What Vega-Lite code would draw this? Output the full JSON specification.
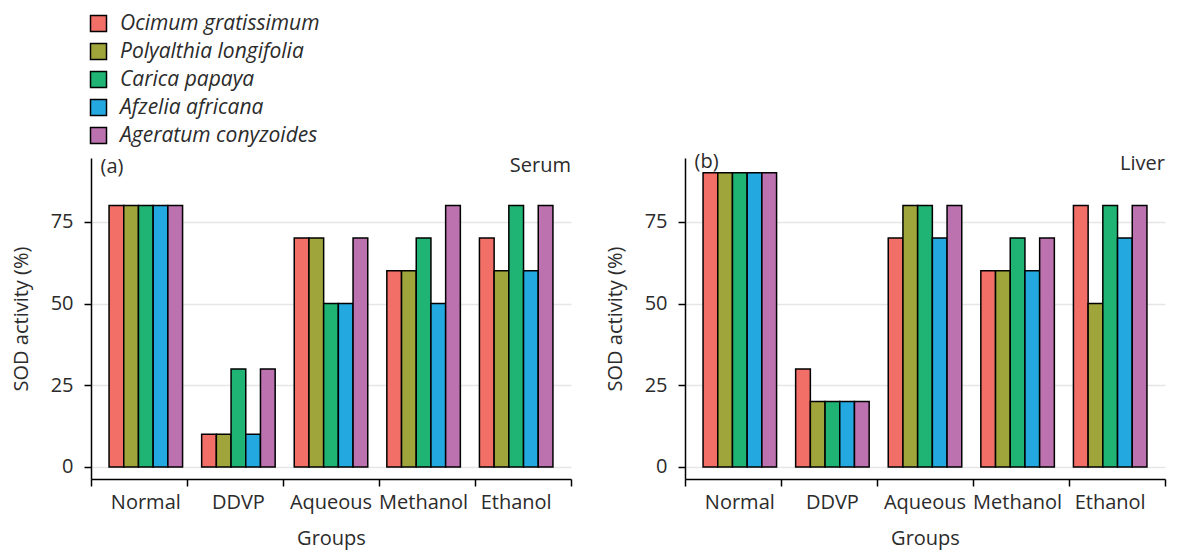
{
  "$schema": "https://vega.github.io/schema/vega-lite/v6.json",
  "padding": {"left": 11, "top": 13, "right": 12, "bottom": 5},
  "background": "white",
  "data": {
    "values": [
      {"tissue": "Serum", "group": "Normal", "species": "Ocimum gratissimum", "value": 80},
      {"tissue": "Serum", "group": "Normal", "species": "Polyalthia longifolia", "value": 80},
      {"tissue": "Serum", "group": "Normal", "species": "Carica papaya", "value": 80},
      {"tissue": "Serum", "group": "Normal", "species": "Afzelia africana", "value": 80},
      {"tissue": "Serum", "group": "Normal", "species": "Ageratum conyzoides", "value": 80},
      {"tissue": "Serum", "group": "DDVP", "species": "Ocimum gratissimum", "value": 10},
      {"tissue": "Serum", "group": "DDVP", "species": "Polyalthia longifolia", "value": 10},
      {"tissue": "Serum", "group": "DDVP", "species": "Carica papaya", "value": 30},
      {"tissue": "Serum", "group": "DDVP", "species": "Afzelia africana", "value": 10},
      {"tissue": "Serum", "group": "DDVP", "species": "Ageratum conyzoides", "value": 30},
      {"tissue": "Serum", "group": "Aqueous", "species": "Ocimum gratissimum", "value": 70},
      {"tissue": "Serum", "group": "Aqueous", "species": "Polyalthia longifolia", "value": 70},
      {"tissue": "Serum", "group": "Aqueous", "species": "Carica papaya", "value": 50},
      {"tissue": "Serum", "group": "Aqueous", "species": "Afzelia africana", "value": 50},
      {"tissue": "Serum", "group": "Aqueous", "species": "Ageratum conyzoides", "value": 70},
      {"tissue": "Serum", "group": "Methanol", "species": "Ocimum gratissimum", "value": 60},
      {"tissue": "Serum", "group": "Methanol", "species": "Polyalthia longifolia", "value": 60},
      {"tissue": "Serum", "group": "Methanol", "species": "Carica papaya", "value": 70},
      {"tissue": "Serum", "group": "Methanol", "species": "Afzelia africana", "value": 50},
      {"tissue": "Serum", "group": "Methanol", "species": "Ageratum conyzoides", "value": 80},
      {"tissue": "Serum", "group": "Ethanol", "species": "Ocimum gratissimum", "value": 70},
      {"tissue": "Serum", "group": "Ethanol", "species": "Polyalthia longifolia", "value": 60},
      {"tissue": "Serum", "group": "Ethanol", "species": "Carica papaya", "value": 80},
      {"tissue": "Serum", "group": "Ethanol", "species": "Afzelia africana", "value": 60},
      {"tissue": "Serum", "group": "Ethanol", "species": "Ageratum conyzoides", "value": 80},
      {"tissue": "Liver", "group": "Normal", "species": "Ocimum gratissimum", "value": 90},
      {"tissue": "Liver", "group": "Normal", "species": "Polyalthia longifolia", "value": 90},
      {"tissue": "Liver", "group": "Normal", "species": "Carica papaya", "value": 90},
      {"tissue": "Liver", "group": "Normal", "species": "Afzelia africana", "value": 90},
      {"tissue": "Liver", "group": "Normal", "species": "Ageratum conyzoides", "value": 90},
      {"tissue": "Liver", "group": "DDVP", "species": "Ocimum gratissimum", "value": 30},
      {"tissue": "Liver", "group": "DDVP", "species": "Polyalthia longifolia", "value": 20},
      {"tissue": "Liver", "group": "DDVP", "species": "Carica papaya", "value": 20},
      {"tissue": "Liver", "group": "DDVP", "species": "Afzelia africana", "value": 20},
      {"tissue": "Liver", "group": "DDVP", "species": "Ageratum conyzoides", "value": 20},
      {"tissue": "Liver", "group": "Aqueous", "species": "Ocimum gratissimum", "value": 70},
      {"tissue": "Liver", "group": "Aqueous", "species": "Polyalthia longifolia", "value": 80},
      {"tissue": "Liver", "group": "Aqueous", "species": "Carica papaya", "value": 80},
      {"tissue": "Liver", "group": "Aqueous", "species": "Afzelia africana", "value": 70},
      {"tissue": "Liver", "group": "Aqueous", "species": "Ageratum conyzoides", "value": 80},
      {"tissue": "Liver", "group": "Methanol", "species": "Ocimum gratissimum", "value": 60},
      {"tissue": "Liver", "group": "Methanol", "species": "Polyalthia longifolia", "value": 60},
      {"tissue": "Liver", "group": "Methanol", "species": "Carica papaya", "value": 70},
      {"tissue": "Liver", "group": "Methanol", "species": "Afzelia africana", "value": 60},
      {"tissue": "Liver", "group": "Methanol", "species": "Ageratum conyzoides", "value": 70},
      {"tissue": "Liver", "group": "Ethanol", "species": "Ocimum gratissimum", "value": 80},
      {"tissue": "Liver", "group": "Ethanol", "species": "Polyalthia longifolia", "value": 50},
      {"tissue": "Liver", "group": "Ethanol", "species": "Carica papaya", "value": 80},
      {"tissue": "Liver", "group": "Ethanol", "species": "Afzelia africana", "value": 70},
      {"tissue": "Liver", "group": "Ethanol", "species": "Ageratum conyzoides", "value": 80}
    ]
  },
  "hconcat": [
    {
      "width": 480,
      "height": 321,
      "transform": [{"filter": "datum.tissue == 'Serum'"}],
      "title": {"text": "Serum", "anchor": "end", "frame": "group", "offset": -19},
      "layer": [
        {
          "mark": {"type": "bar", "stroke": "black", "strokeWidth": 1.5},
          "encoding": {
            "x": {
              "field": "group", "type": "nominal",
              "sort": ["Normal", "DDVP", "Aqueous", "Methanol", "Ethanol"],
              "scale": {"paddingInner": 0.206, "paddingOuter": 0.195},
              "axis": {"orient": "bottom", "title": "Groups", "labelAngle": 0, "ticks": false, "tickSize": 0, "domain": false, "labelPadding": 13, "titlePadding": 16}
            },
            "xOffset": {
              "field": "species", "type": "nominal",
              "sort": ["Ocimum gratissimum", "Polyalthia longifolia", "Carica papaya", "Afzelia africana", "Ageratum conyzoides"],
              "scale": {"paddingInner": 0, "paddingOuter": 0}
            },
            "y": {
              "field": "value", "type": "quantitative",
              "scale": {"domain": [-3.67, 94.5], "nice": false, "zero": false},
              "axis": {"values": [0, 25, 50, 75], "title": "SOD activity (%)", "grid": true}
            },
            "color": {
              "field": "species", "type": "nominal",
              "scale": {
                "domain": ["Ocimum gratissimum", "Polyalthia longifolia", "Carica papaya", "Afzelia africana", "Ageratum conyzoides"],
                "range": ["#F16F67", "#9FA53A", "#1FB374", "#23A8E0", "#BC72AF"]
              },
              "legend": {"orient": "none", "legendX": -3, "legendY": -145, "title": null, "direction": "vertical"}
            }
          }
        },
        {
          "data": {"values": [{"label": "(a)"}]},
          "mark": {"type": "text", "align": "left", "baseline": "middle", "fontSize": 20, "color": "#2b2b2b"},
          "encoding": {
            "x": {
              "datum": 0.1, "type": "quantitative",
              "scale": {"domain": [0, 5], "nice": false},
              "axis": {"orient": "bottom", "values": [0, 1, 2, 3, 4, 5], "labels": false, "grid": false, "title": null, "ticks": true, "domain": true}
            },
            "y": {"datum": 91.9, "type": "quantitative"},
            "text": {"field": "label"}
          }
        }
      ],
      "resolve": {"scale": {"x": "independent"}}
    },
    {
      "width": 480,
      "height": 321,
      "transform": [{"filter": "datum.tissue == 'Liver'"}],
      "title": {"text": "Liver", "anchor": "end", "frame": "group", "offset": -22},
      "layer": [
        {
          "mark": {"type": "bar", "stroke": "black", "strokeWidth": 1.5},
          "encoding": {
            "x": {
              "field": "group", "type": "nominal",
              "sort": ["Normal", "DDVP", "Aqueous", "Methanol", "Ethanol"],
              "scale": {"paddingInner": 0.206, "paddingOuter": 0.195},
              "axis": {"orient": "bottom", "title": "Groups", "labelAngle": 0, "ticks": false, "tickSize": 0, "domain": false, "labelPadding": 13, "titlePadding": 16}
            },
            "xOffset": {
              "field": "species", "type": "nominal",
              "sort": ["Ocimum gratissimum", "Polyalthia longifolia", "Carica papaya", "Afzelia africana", "Ageratum conyzoides"],
              "scale": {"paddingInner": 0, "paddingOuter": 0}
            },
            "y": {
              "field": "value", "type": "quantitative",
              "scale": {"domain": [-3.67, 94.5], "nice": false, "zero": false},
              "axis": {"values": [0, 25, 50, 75], "title": "SOD activity (%)", "grid": true}
            },
            "color": {
              "field": "species", "type": "nominal",
              "scale": {
                "domain": ["Ocimum gratissimum", "Polyalthia longifolia", "Carica papaya", "Afzelia africana", "Ageratum conyzoides"],
                "range": ["#F16F67", "#9FA53A", "#1FB374", "#23A8E0", "#BC72AF"]
              },
              "legend": {"orient": "none", "legendX": -3, "legendY": -145, "title": null, "direction": "vertical"}
            }
          }
        },
        {
          "data": {"values": [{"label": "(b)"}]},
          "mark": {"type": "text", "align": "left", "baseline": "middle", "fontSize": 20, "color": "#2b2b2b"},
          "encoding": {
            "x": {
              "datum": 0.1, "type": "quantitative",
              "scale": {"domain": [0, 5], "nice": false},
              "axis": {"orient": "bottom", "values": [0, 1, 2, 3, 4, 5], "labels": false, "grid": false, "title": null, "ticks": true, "domain": true}
            },
            "y": {"datum": 93.3, "type": "quantitative"},
            "text": {"field": "label"}
          }
        }
      ],
      "resolve": {"scale": {"x": "independent"}}
    }
  ],
  "spacing": 114,
  "bounds": "flush",
  "config": {
    "font": "Open Sans",
    "view": {"stroke": null},
    "title": {"fontSize": 20, "fontWeight": "normal", "color": "#2b2b2b", "font": "Open Sans"},
    "axis": {
      "labelFontSize": 20,
      "labelColor": "#2b2b2b",
      "labelFont": "Open Sans",
      "titleFontSize": 20,
      "titleFontWeight": "normal",
      "titleColor": "#2b2b2b",
      "titleFont": "Open Sans",
      "domainColor": "black",
      "domainWidth": 1.5,
      "tickColor": "black",
      "tickWidth": 1.5,
      "tickSize": 7,
      "gridColor": "#e6e6e6",
      "gridWidth": 1.5
    },
    "axisY": {"labelPadding": 11, "titlePadding": 19},
    "legend": {
      "symbolType": "square",
      "symbolSize": 256,
      "symbolStrokeColor": "black",
      "symbolStrokeWidth": 1.5,
      "symbolOpacity": 1,
      "labelFontSize": 21,
      "labelFontStyle": "italic",
      "labelFont": "Open Sans",
      "labelColor": "#2b2b2b",
      "labelOffset": 11,
      "rowPadding": 5,
      "labelLimit": 400
    }
  }
}
